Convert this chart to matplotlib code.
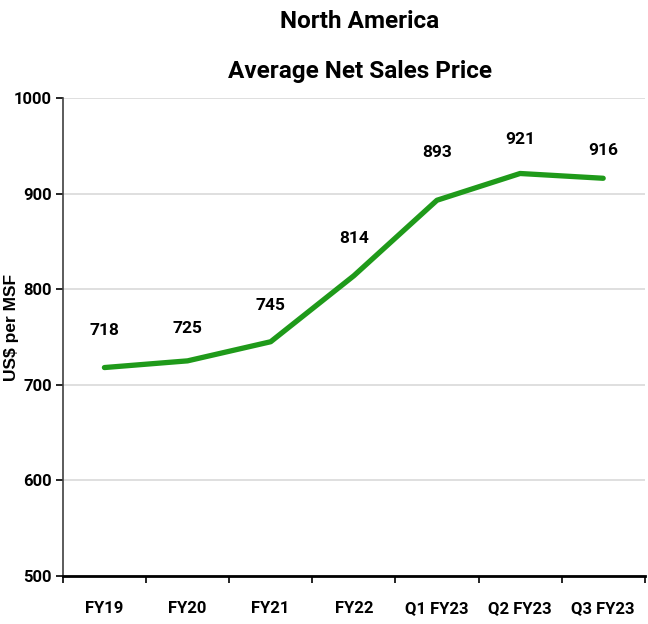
import numpy as np
from matplotlib import pyplot as plt

categories = ["FY19", "FY20", "FY21", "FY22", "Q1 FY23", "Q2 FY23", "Q3 FY23"]
prices = [718, 725, 745, 814, 893, 921, 916]
# how far above the line each label sits (pixels)
label_offsets = [37, 32, 36, 37, 48, 34, 28]

plt.rcParams['font.family'] = ['Liberation Sans Narrow', 'Roboto', 'DejaVu Sans']

fig = plt.figure(figsize=(6.48, 6.24), dpi=100)
ax = fig.add_axes([0.097, 0.077, 0.898, 0.766])

x = np.arange(len(categories))
ax.plot(x, prices, color="#1f9a1a", linewidth=3.8, solid_capstyle="round")

for xi, val, off in zip(x, prices, label_offsets):
    ax.annotate(str(val), (xi, val), xytext=(0, off * 0.72), textcoords="offset points",
                ha="center", va="center", fontsize=12.5, fontweight="bold")

ax.set_xlim(-0.5, len(categories) - 0.5)
ax.set_ylim(500, 1000)
ax.set_yticks(np.arange(500, 1001, 100))
ax.yaxis.grid(True, color="#d9d9d9", linewidth=1.2)
ax.set_axisbelow(True)

# tick marks sit between categories, labels centred on them
ax.set_xticks(np.arange(-0.5, len(categories), 1))
ax.set_xticklabels([])
ax.set_xticks(x, minor=True)
ax.set_xticklabels(categories, minor=True)
ax.tick_params(axis="x", which="major", length=5, width=1.2, direction="out")
ax.tick_params(axis="x", which="minor", length=0, pad=18, labelsize=12)
ax.tick_params(axis="y", length=5, width=1.2, labelsize=12, pad=3)
for lab in ax.get_xticklabels(minor=True) + ax.get_yticklabels():
    lab.set_fontweight("bold")

ax.spines["top"].set_visible(False)
ax.spines["right"].set_visible(False)
ax.spines["left"].set_color("#404040")
ax.spines["left"].set_linewidth(1.2)
ax.spines["bottom"].set_linewidth(2)

ax.set_ylabel("US$ per MSF", fontsize=12.5, fontweight="bold",
              family=["Liberation Sans", "DejaVu Sans"])
ax.yaxis.set_label_coords(-0.075, 0.52)
fig.text(0.555, 0.965, "North America", ha="center", va="center", fontsize=17.5, fontweight="bold")
fig.text(0.555, 0.885, "Average Net Sales Price", ha="center", va="center", fontsize=17.5, fontweight="bold")

fig.savefig("out.png", dpi=100)
